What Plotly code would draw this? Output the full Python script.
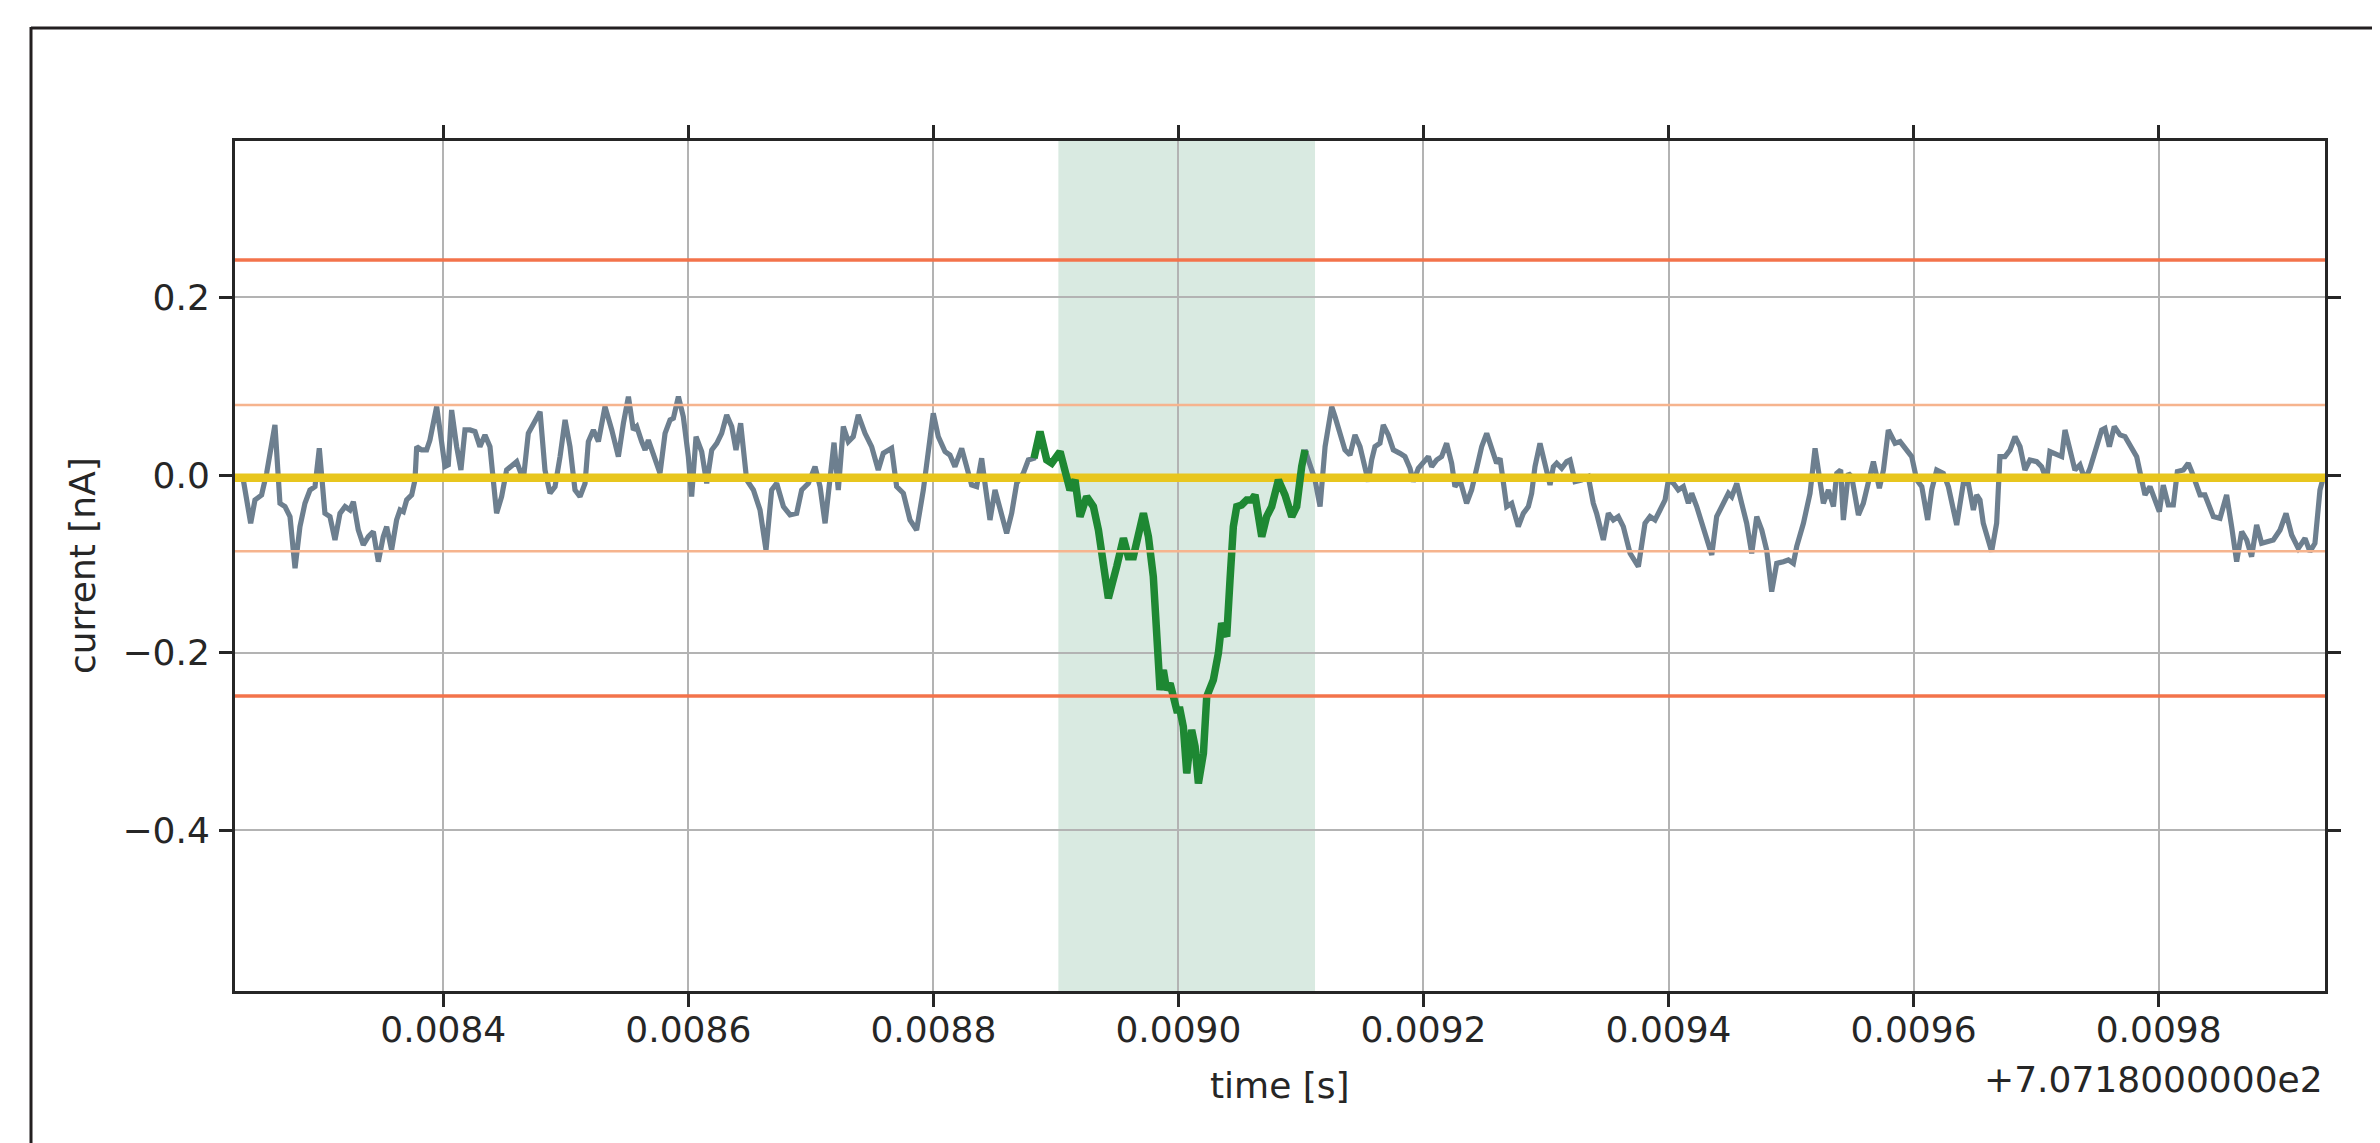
import plotly.graph_objects as go

# ---- data (time offset in microseconds after 707.18 s, current in nA) ----
time_us = [
    8236.8, 8242.8, 8246.3, 8251.7, 8255.8, 8262.6, 8266.7, 8270.8, 8274.9, 8279.0,
    8283.0, 8287.1, 8291.2, 8295.3, 8298.8, 8303.4, 8307.5, 8311.6, 8315.7, 8319.8,
    8323.8, 8326.6, 8330.6, 8334.7, 8338.8, 8342.9, 8347.0, 8351.0, 8353.8, 8357.8,
    8361.9, 8364.7, 8367.4, 8370.1, 8374.2, 8376.9, 8378.3, 8382.3, 8386.4, 8389.1,
    8394.6, 8398.7, 8401.4, 8404.1, 8406.8, 8410.9, 8414.4, 8417.7, 8421.8, 8425.9,
    8429.9, 8434.0, 8438.1, 8443.5, 8447.6, 8451.7, 8459.9, 8465.3, 8469.4,
    8479.0, 8483.0, 8487.1, 8491.2, 8495.3, 8499.4, 8503.4, 8507.5, 8511.6, 8515.7,
    8518.4, 8522.5, 8526.6, 8532.0, 8537.5, 8542.9, 8547.0, 8551.1, 8555.1, 8557.9,
    8561.9, 8564.7, 8567.4, 8571.5, 8576.9, 8581.0, 8585.1, 8587.8, 8591.9, 8595.9,
    8600.0, 8602.7, 8606.3, 8610.9, 8615.0, 8619.1, 8623.2, 8627.2, 8631.3, 8635.4,
    8638.9, 8642.7, 8647.6, 8653.1, 8658.5, 8663.4, 8668.0, 8672.1, 8677.6, 8683.0,
    8688.4, 8692.5, 8698.0, 8703.4, 8707.5, 8711.6,
    8718.9, 8722.4, 8726.5, 8730.6, 8734.6, 8738.7, 8744.2, 8749.6, 8755.0, 8759.1,
    8765.9, 8770.0, 8775.5, 8780.9, 8786.3, 8791.8, 8795.9, 8799.9, 8804.0, 8809.5,
    8813.5, 8817.6, 8823.1, 8827.1, 8831.2, 8835.3, 8839.4, 8842.1, 8846.2, 8850.3,
    8854.4, 8859.8, 8863.9, 8868.0, 8873.4, 8877.5, 8882.1,
    8887.0, 8892.5, 8896.6, 8903.4, 8908.8, 8911.5, 8915.6, 8919.7, 8925.1, 8930.6,
    8934.7, 8942.8, 8949.6, 8955.1, 8959.1, 8963.2, 8971.4, 8975.5, 8979.5, 8982.3,
    8985.0, 8987.7, 8990.4, 8993.2, 8995.9, 8998.6, 9001.3, 9004.0, 9006.8, 9010.8,
    9013.6, 9016.3, 9020.4, 9023.1, 9028.5, 9032.6, 9035.3, 9039.4, 9042.1, 9044.8,
    9047.6, 9051.6, 9055.7, 9059.8, 9062.5, 9068.0, 9072.0, 9076.1, 9081.6, 9087.0,
    9092.5, 9096.5, 9100.6, 9103.3,
    9111.5, 9115.6, 9119.7, 9125.1, 9127.8, 9131.9, 9135.9, 9140.0, 9144.1, 9148.2,
    9152.3, 9155.0, 9157.7, 9160.4, 9164.5, 9167.2, 9171.3, 9175.4, 9180.8, 9184.9,
    9189.0, 9191.7, 9195.8, 9199.9, 9204.0, 9206.7, 9210.8, 9214.8, 9218.9, 9223.0,
    9225.7, 9229.8, 9235.2, 9239.3, 9242.0, 9247.5, 9251.6, 9255.6, 9259.7, 9262.5,
    9265.2, 9267.9, 9272.0, 9277.4, 9281.5, 9285.6, 9288.3, 9291.0, 9295.1, 9299.2,
    9303.3, 9306.0, 9308.7, 9312.8, 9316.9, 9319.6, 9323.7, 9329.1, 9334.5, 9338.6,
    9341.3, 9346.8, 9350.9, 9355.0, 9359.0, 9363.1, 9367.2,
    9368.6, 9375.4, 9380.8, 9384.9, 9389.0, 9393.1, 9397.2, 9399.9, 9404.0, 9408.0,
    9412.1, 9416.2, 9418.9, 9423.0, 9428.5, 9435.3, 9439.3, 9444.8, 9448.9, 9451.6,
    9455.7, 9459.7, 9463.8, 9467.9, 9472.0, 9476.1, 9480.1, 9484.2, 9488.3, 9493.7,
    9497.8, 9501.9, 9504.6, 9510.1, 9515.5, 9519.6, 9523.7, 9526.4, 9530.5, 9534.6,
    9537.3, 9540.5, 9542.7, 9546.8, 9549.5, 9555.0, 9559.0, 9563.1, 9567.2, 9572.1,
    9575.4, 9579.4, 9584.9, 9589.0, 9593.0, 9598.5, 9602.6, 9606.7, 9611.5, 9614.8,
    9618.9,
    9624.3, 9628.4, 9635.2, 9640.6, 9644.7, 9648.8, 9651.5, 9654.2, 9656.9, 9663.7,
    9667.8, 9670.5, 9674.6, 9678.7, 9682.8, 9686.9, 9690.9, 9695.0, 9700.5, 9704.5,
    9708.6, 9711.3, 9716.8, 9720.9, 9723.6, 9727.7, 9731.7, 9735.8, 9739.9, 9744.0,
    9749.4, 9753.5, 9756.2, 9759.8, 9763.8, 9768.5, 9772.6, 9776.6, 9782.1, 9786.2,
    9788.9, 9793.0, 9797.0, 9800.6, 9803.8, 9807.9, 9812.0, 9815.3, 9820.2, 9824.2,
    9827.0, 9831.0, 9833.8, 9837.8, 9841.9, 9844.7, 9850.1, 9855.5, 9859.6, 9863.7,
    9867.8, 9871.9, 9875.9, 9880.0, 9884.1, 9888.2, 9893.6, 9899.1, 9904.0, 9908.6,
    9914.0, 9919.5, 9923.5, 9927.6, 9931.7, 9933.9,
]

current_nA = [
    -0.0055, -0.0543, -0.0280, -0.0224, 0.0020, 0.0564, -0.0318, -0.0355, -0.0468, -0.1050,
    -0.0581, -0.0318, -0.0168, -0.0130, 0.0301, -0.0431, -0.0468, -0.0731, -0.0431, -0.0355,
    -0.0393, -0.0299, -0.0618, -0.0787, -0.0693, -0.0637, -0.0975, -0.0693, -0.0581, -0.0844,
    -0.0506, -0.0393, -0.0412, -0.0280, -0.0224, -0.0055, 0.0320, 0.0283, 0.0283, 0.0395,
    0.0771, 0.0395, 0.0095, 0.0114, 0.0733, 0.0320, 0.0057, 0.0508, 0.0508, 0.0489,
    0.0320, 0.0452, 0.0320, -0.0431, -0.0243, 0.0057, 0.0151, -0.0055, 0.0470,
    0.0714, 0.0057, -0.0205, -0.0130, 0.0208, 0.0621, 0.0320, -0.0168, -0.0243, -0.0093,
    0.0377, 0.0508, 0.0377, 0.0771, 0.0508, 0.0208, 0.0583, 0.0883, 0.0508, 0.0546,
    0.0377, 0.0283, 0.0395, 0.0245, 0.0020, 0.0470, 0.0621, 0.0639, 0.0883, 0.0658,
    0.0208, -0.0243, 0.0433, 0.0264, -0.0093, 0.0283, 0.0358, 0.0470, 0.0677, 0.0546,
    0.0283, 0.0583, -0.0055, -0.0168, -0.0393, -0.0844, -0.0168, -0.0093, -0.0355, -0.0449,
    -0.0431, -0.0168, -0.0093, 0.0095, -0.0130, -0.0543,
    0.0365, -0.0168, 0.0546, 0.0377, 0.0433, 0.0677, 0.0470, 0.0320, 0.0057, 0.0245,
    0.0301, -0.0130, -0.0205, -0.0506, -0.0618, -0.0168, 0.0283, 0.0696, 0.0433, 0.0264,
    0.0226, 0.0095, 0.0301, 0.0095, -0.0112, -0.0130, 0.0189, -0.0093, -0.0506, -0.0168,
    -0.0393, -0.0656, -0.0431, -0.0093, 0.0020, 0.0170, 0.0189,
    0.0489, 0.0170, 0.0133, 0.0264, -0.0018, -0.0168, -0.0055, -0.0468, -0.0243, -0.0355,
    -0.0618, -0.1388, -0.1031, -0.0712, -0.0919, -0.0919, -0.0431, -0.0693, -0.1144, -0.1932,
    -0.2420, -0.2195, -0.2420, -0.2345, -0.2495, -0.2645, -0.2645, -0.2833, -0.3358, -0.2871,
    -0.3058, -0.3471, -0.3133, -0.2495, -0.2307, -0.2007, -0.1669, -0.1819, -0.1181, -0.0581,
    -0.0355, -0.0337, -0.0280, -0.0280, -0.0224, -0.0693, -0.0468, -0.0355, -0.0055, -0.0224,
    -0.0468, -0.0355, 0.0095, 0.0283,
    -0.0055, -0.0355, 0.0320, 0.0771, 0.0658, 0.0470, 0.0283, 0.0226, 0.0452, 0.0320,
    0.0095, -0.0074, 0.0170, 0.0320, 0.0358, 0.0564, 0.0452, 0.0283, 0.0245, 0.0208,
    0.0076, -0.0074, 0.0076, 0.0133, 0.0208, 0.0095, 0.0170, 0.0208, 0.0358, 0.0133,
    -0.0130, -0.0055, -0.0318, -0.0168, -0.0018, 0.0320, 0.0470, 0.0320, 0.0133, 0.0189,
    -0.0093, -0.0355, -0.0318, -0.0581, -0.0431, -0.0355, -0.0205, 0.0095, 0.0358, 0.0095,
    -0.0112, 0.0095, 0.0133, 0.0076, 0.0151, 0.0170, -0.0074, -0.0055, -0.0018, -0.0318,
    -0.0431, -0.0731, -0.0431, -0.0506, -0.0468, -0.0581, -0.0844,
    -0.0881, -0.1031, -0.0543, -0.0468, -0.0506, -0.0393, -0.0280, -0.0055, -0.0093, -0.0168,
    -0.0130, -0.0318, -0.0205, -0.0355, -0.0618, -0.0900, -0.0468, -0.0318, -0.0205, -0.0243,
    -0.0093, -0.0318, -0.0543, -0.0881, -0.0468, -0.0618, -0.0844, -0.1313, -0.0994, -0.0975,
    -0.0956, -0.0994, -0.0806, -0.0543, -0.0205, 0.0301, -0.0055, -0.0318, -0.0168, -0.0355,
    0.0020, 0.0057, -0.0506, 0.0020, -0.0018, -0.0449, -0.0318, -0.0055, 0.0151, -0.0149,
    0.0057, 0.0508, 0.0358, 0.0377, 0.0301, 0.0208, -0.0055, -0.0130, -0.0506, -0.0168,
    0.0057,
    0.0020, -0.0130, -0.0562, -0.0093, -0.0093, -0.0393, -0.0224, -0.0280, -0.0543, -0.0862,
    -0.0543, 0.0208, 0.0208, 0.0283, 0.0433, 0.0320, 0.0057, 0.0170, 0.0151, 0.0095,
    -0.0055, 0.0264, 0.0226, 0.0208, 0.0508, 0.0283, 0.0057, 0.0114, -0.0055, 0.0076,
    0.0339, 0.0508, 0.0527, 0.0320, 0.0546, 0.0452, 0.0433, 0.0339, 0.0208, -0.0055,
    -0.0224, -0.0130, -0.0299, -0.0412, -0.0112, -0.0337, -0.0337, 0.0039, 0.0057, 0.0133,
    0.0039, -0.0130, -0.0224, -0.0224, -0.0393, -0.0468, -0.0487, -0.0224, -0.0581, -0.0975,
    -0.0637, -0.0731, -0.0919, -0.0562, -0.0768, -0.0750, -0.0731, -0.0618, -0.0431, -0.0675,
    -0.0825, -0.0712, -0.0862, -0.0768, -0.0168, -0.0055,
]

# detected event (green) and its shaded window, microseconds
event_start_us = 8882.1
event_end_us = 9103.3
window_start_us = 8902.0
window_end_us = 9111.5

# horizontal reference levels, nA
baseline_nA = -0.003
outer_thresholds_nA = [0.2422, -0.2487]
inner_thresholds_nA = [0.0790, -0.0857]

# axes
x_tick_us = [8400, 8600, 8800, 9000, 9200, 9400, 9600, 9800]
x_tick_labels = ["0.0084", "0.0086", "0.0088", "0.0090", "0.0092", "0.0094", "0.0096", "0.0098"]
y_tick_vals = [-0.4, -0.2, 0.0, 0.2]
y_tick_labels = ["\u22120.4", "\u22120.2", "0.0", "0.2"]
x_range_us = [8230.0, 9935.8]
y_range_nA = [-0.581, 0.3762]
offset_text = "+7.0718000000e2"

# ---- build ----
t_s = [v * 1e-6 for v in time_us]
ev_t = [t * 1e-6 for t in time_us if event_start_us <= t <= event_end_us]
ev_y = [c for t, c in zip(time_us, current_nA) if event_start_us <= t <= event_end_us]

FONT = "DejaVu Sans"
TXT = "#262626"
FS = 36

fig = go.Figure()

# shaded window
fig.add_shape(type="rect", xref="x", yref="paper",
              x0=window_start_us * 1e-6, x1=window_end_us * 1e-6, y0=0, y1=1,
              fillcolor="rgba(46,139,87,0.18)", line_width=0, layer="below")

# threshold lines
for lv in inner_thresholds_nA:
    fig.add_shape(type="line", xref="paper", yref="y", x0=0, x1=1, y0=lv, y1=lv,
                  line=dict(color="#f6b48e", width=2.5))
for lv in outer_thresholds_nA:
    fig.add_shape(type="line", xref="paper", yref="y", x0=0, x1=1, y0=lv, y1=lv,
                  line=dict(color="#f3734b", width=3.5))

# signal
fig.add_trace(go.Scatter(x=t_s, y=current_nA, mode="lines",
                         line=dict(color="#6d7f8f", width=5.2), hoverinfo="skip"))
# baseline
fig.add_trace(go.Scatter(x=[x_range_us[0] * 1e-6, x_range_us[1] * 1e-6],
                         y=[baseline_nA, baseline_nA], mode="lines",
                         line=dict(color="#e8c61e", width=8.5), hoverinfo="skip"))
# event
fig.add_trace(go.Scatter(x=ev_t, y=ev_y, mode="lines",
                         line=dict(color="#1e8833", width=7.5), hoverinfo="skip"))

axis_common = dict(
    showgrid=True, gridcolor="#b3b3b3", gridwidth=2,
    showline=True, linecolor="#262626", linewidth=3, mirror="ticks",
    ticks="outside", ticklen=13, tickwidth=2.5, tickcolor="#262626",
    tickfont=dict(family=FONT, size=FS, color=TXT), zeroline=False,
)

fig.update_xaxes(range=[x_range_us[0] * 1e-6, x_range_us[1] * 1e-6],
                 tickvals=[v * 1e-6 for v in x_tick_us], ticktext=x_tick_labels,
                 ticklabelstandoff=-8, **axis_common)
fig.update_yaxes(range=y_range_nA, tickvals=y_tick_vals, ticktext=y_tick_labels,
                 ticklabelstandoff=2, **axis_common)

# page body has an 8px margin; figure sized so it fits the 2380x1143 window
OFF = 8
W, H = 2380 - OFF, 1143 - OFF
L, T = 235 - OFF, 141 - OFF
R = W - (2325 - OFF)
B = H - (991 - OFF)
pw, ph = W - L - R, H - T - B

def px(xp):  # page pixel -> paper
    return (xp - OFF - L) / pw

def py(yp):
    return (H - B - (yp - OFF)) / ph

annots = [
    dict(text="time [s]", x=0.5, y=py(1085), xanchor="center", yanchor="middle"),
    dict(text=offset_text, x=1.0, y=py(1079), xanchor="right", yanchor="middle"),
    dict(text="current [nA]", x=px(82), y=0.5, xanchor="center", yanchor="middle", textangle=-90),
]
for a in annots:
    fig.add_annotation(xref="paper", yref="paper", showarrow=False,
                       font=dict(family=FONT, size=FS, color=TXT), **a)

# outer frame (top and left edges)
fig.add_shape(type="line", xref="paper", yref="paper", x0=px(31), x1=px(2400),
              y0=py(28), y1=py(28), line=dict(color="#231f20", width=3))
fig.add_shape(type="line", xref="paper", yref="paper", x0=px(31), x1=px(31),
              y0=py(27), y1=py(1160), line=dict(color="#231f20", width=3))

fig.update_layout(
    width=W, height=H, margin=dict(l=L, r=R, t=T, b=B, autoexpand=False),
    paper_bgcolor="white", plot_bgcolor="white", showlegend=False,
    font=dict(family=FONT, color=TXT),
)

fig.write_html("out.html")
